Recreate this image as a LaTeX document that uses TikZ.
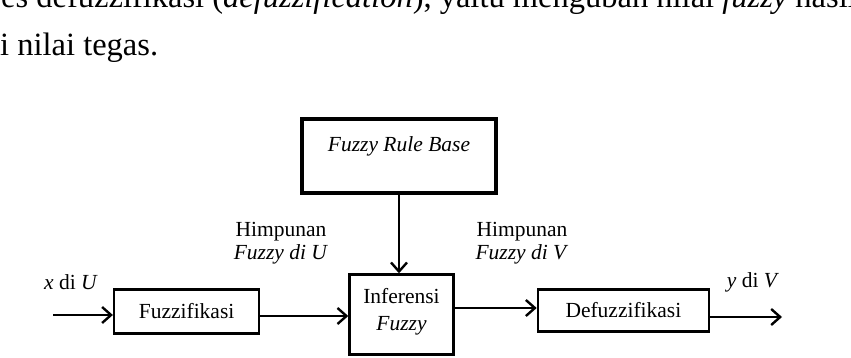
\documentclass[tikz,border=0pt]{standalone}
\usepackage{fontspec}
\setmainfont{Liberation Serif}
\usetikzlibrary{positioning}
\usetikzlibrary{arrows.meta}

\tikzset{
  block/.style={draw, line width=2.4pt, inner sep=0pt, align=center, font=\fontsize{21.5}{27}\selectfont},
  flow/.style={line width=2.4pt, -{Straight Barb[length=9pt,width=16pt,line width=2.4pt]}},
  lbl/.style={inner sep=0pt, align=center, font=\fontsize{21.5}{23}\selectfont},
  para/.style={anchor=base west, inner sep=0pt, font=\fontsize{32.5}{40}\selectfont},
}

\begin{document}
\begin{tikzpicture}[x=1pt, y=-1pt]
    \clip (0,0) rectangle (851,358);

    % paragraph text
    \node[para] (par1) at (1,8) {es defuzzifikasi (\textit{defuzzification}), yaitu mengubah nilai \textit{fuzzy} hasil};
    \node[para] (par2) at (0,56) {i nilai tegas.};

    % blocks
    \node[block, minimum width=104pt, minimum height=80pt, text depth=10pt] (inf) at (401.5,314.5) {Inferensi\\\textit{Fuzzy}};
    \node[block, minimum width=145pt, minimum height=44pt, left=88pt of inf, yshift=3pt] (fuzz) {Fuzzifikasi};
    \node[block, minimum width=171pt, minimum height=42pt, right=82pt of inf, yshift=4pt] (defuzz) {Defuzzifikasi};
    \node[block, line width=4.5pt, minimum width=194pt, minimum height=74pt, above=78pt of inf, xshift=-2.5pt,
          label={[lbl, yshift=10pt]center:\textit{Fuzzy Rule Base}}] (rule) {};

    % labels
    \node[lbl] (xlbl) at (71,282) {\textit{x} di \textit{U}};
    \node[lbl] (ylbl) at (753,282) {\textit{y} di \textit{V}};
    \node[lbl] (hu) at (281,243.5) {Himpunan\\\textit{Fuzzy di U}};
    \node[lbl] (hv) at (522,243.5) {Himpunan\\\textit{Fuzzy di V}};

    % connectors
    \coordinate (xin) at (53,315);
    \coordinate (yout) at (782,317);
    \coordinate (fu) at ([yshift=-4.5pt]fuzz.east);
    \coordinate (fv) at ([yshift=6.5pt]inf.east);
    \coordinate (dv) at ([yshift=-6.5pt]defuzz.east);

    \draw[flow] (xin) -- (fuzz.west |- xin);
    \draw[flow] (fu) -- (fu -| inf.west);
    \draw[flow] (fv) -- (fv -| defuzz.west);
    \draw[flow] (dv) -- (yout);
    \draw[flow] (rule.south) -- (rule.south |- inf.north);
\end{tikzpicture}
\end{document}
